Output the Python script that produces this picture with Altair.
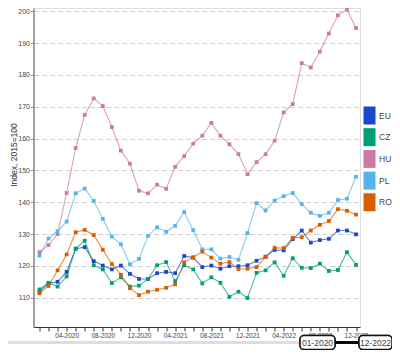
import altair as alt
import pandas as pd
import json

months = ["01-2020","02-2020","03-2020","04-2020","05-2020","06-2020","07-2020","08-2020","09-2020","10-2020","11-2020","12-2020",
          "01-2021","02-2021","03-2021","04-2021","05-2021","06-2021","07-2021","08-2021","09-2021","10-2021","11-2021","12-2021",
          "01-2022","02-2022","03-2022","04-2022","05-2022","06-2022","07-2022","08-2022","09-2022","10-2022","11-2022","12-2022"]

countries = ["EU", "CZ", "HU", "PL", "RO"]
colors = ["#1a47c7", "#009E73", "#CC79A7", "#56B4E9", "#D55E00"]

eu = [111.9, 114.5, 115.0, 118.1, 125.4, 125.9, 121.5, 120.1, 118.9, 120.1, 117.5, 115.9,
      115.9, 117.7, 118.1, 117.7, 123.1, 122.6, 119.6, 120.1, 119.1, 119.9, 119.9, 120.2,
      121.6, 122.9, 125.0, 124.9, 128.4, 131.1, 127.3, 128.1, 128.5, 131.1, 131.1, 129.9]
cz = [112.6, 114.7, 113.5, 116.7, 125.4, 127.9, 120.2, 118.9, 114.6, 116.4, 113.5, 113.8,
      115.9, 120.2, 121.2, 115.2, 120.2, 118.9, 114.5, 116.4, 114.7, 110.3, 111.9, 109.9,
      117.8, 118.6, 121.1, 116.9, 122.4, 119.4, 119.3, 120.7, 118.4, 118.7, 124.3, 120.3]
hu = [124.3, 126.5, 130.0, 142.9, 157.0, 167.4, 172.6, 170.2, 163.6, 156.2, 152.1, 143.6,
      142.8, 145.5, 144.2, 151.1, 154.5, 158.4, 160.9, 164.9, 160.9, 158.2, 155.1, 148.8,
      152.6, 155.1, 159.3, 168.2, 170.8, 183.7, 182.3, 187.3, 193.0, 198.7, 200.5, 194.7]
pl = [123.2, 128.6, 130.9, 133.9, 142.8, 144.3, 140.4, 134.8, 129.2, 126.8, 120.5, 122.2,
      129.4, 132.1, 130.7, 132.6, 136.9, 131.2, 125.2, 125.2, 122.3, 122.8, 121.9, 130.3,
      139.7, 137.4, 140.5, 141.9, 142.9, 139.4, 136.7, 135.7, 136.7, 140.7, 141.1, 148.0]
ro = [111.4, 113.7, 118.6, 123.6, 130.6, 131.3, 129.7, 125.1, 120.6, 117.2, 113.0, 110.8,
      111.9, 112.5, 113.1, 114.2, 121.1, 122.7, 124.5, 122.6, 120.7, 121.2, 119.0, 119.1,
      119.6, 122.8, 125.7, 125.6, 128.8, 129.0, 131.1, 132.9, 134.1, 137.8, 137.3, 136.1]

series = {"EU": eu, "CZ": cz, "HU": hu, "PL": pl, "RO": ro}
rows = []
for c in countries:
    for i, v in enumerate(series[c]):
        rows.append({"idx": i, "month": months[i], "country": c, "value": v})
df = pd.DataFrame(rows)
leg_df = pd.DataFrame({"country": countries})

FONT = "Liberation Sans"
label_expr = "datum.value % 4 == 3 ? " + json.dumps(months) + "[datum.value] : ''"

color_scale = alt.Scale(domain=countries, range=colors)

x_enc = alt.X("idx:Q",
              scale=alt.Scale(domain=[-0.663, 35.44], nice=False, zero=False),
              axis=alt.Axis(values=list(range(36)), labelExpr=label_expr, title=None, grid=False,
                            tickSize=4, tickColor="#333", domainColor="#333", domainWidth=1,
                            labelFontSize=6.5, labelColor="#444", labelPadding=1,
                            labelOverlap=False, labelFlush=False, labelFont=FONT))
y_enc = alt.Y("value:Q",
              scale=alt.Scale(domain=[100.8, 201], nice=False, zero=False),
              axis=alt.Axis(values=list(range(110, 201, 10)), grid=True, gridDash=[5, 3],
                            gridColor="#cfcfcf", domainColor="#888", domainWidth=1.5,
                            tickSize=3, tickColor="#888", labelFontSize=7, labelColor="#444",
                            labelPadding=1, labelFont=FONT,
                            title="Index, 2015=100", titleFontSize=8.5, titleFontWeight="normal",
                            titleColor="#333", titleFont=FONT, titleX=-20.5, titleY=146.5,
                            titleBaseline="middle", titleAlign="center"))

lines = alt.Chart(df).mark_line(strokeWidth=1.1, opacity=0.7).encode(
    x=x_enc, y=y_enc,
    color=alt.Color("country:N", scale=color_scale, legend=None),
    detail="country:N")
points = alt.Chart(df).mark_point(filled=True, size=14, opacity=1, shape="square").encode(
    x=x_enc, y=y_enc,
    color=alt.Color("country:N", scale=color_scale, legend=None))

plot = alt.layer(lines, points)

# legend (colour keys on the right edge)
leg_y = alt.Y("country:N", sort=countries, axis=None,
              scale=alt.Scale(domain=countries, range=[98, 203.8], paddingInner=0.124, paddingOuter=0))
leg_rect = alt.Chart(leg_df).mark_rect(stroke="#ffffff", strokeWidth=1).encode(
    x=alt.value(329.5), x2=alt.value(342.5), y=leg_y,
    color=alt.Color("country:N", scale=color_scale, legend=None))
leg_text = alt.Chart(leg_df).mark_text(align="left", baseline="middle", fontSize=8.5,
                                       color="#444", font=FONT).encode(
    x=alt.value(345.5), y=leg_y, text="country:N")
leg = alt.layer(leg_rect, leg_text)

# range-slider style decoration below the axis
ends = pd.DataFrame({"label": [months[0], months[-1]]})
bar = alt.Chart(ends).mark_rule(color="#dcdde6", strokeWidth=3).encode(
    x=alt.value(-25.5), x2=alt.value(270), y=alt.value(334.5))
join = alt.Chart(ends).mark_rule(color="#000", strokeWidth=2.5).encode(
    x=alt.value(301.5), x2=alt.value(325.5), y=alt.value(334.5))
box1 = alt.Chart(ends).mark_rect(fill="white", stroke="#111", strokeWidth=1.5, cornerRadius=4).encode(
    x=alt.value(266.5), x2=alt.value(301.5), y=alt.value(327.5), y2=alt.value(341.5))
box2 = alt.Chart(ends).mark_rect(fill="white", stroke="#111", strokeWidth=1.5, cornerRadius=4).encode(
    x=alt.value(325.5), x2=alt.value(358.5), y=alt.value(327.5), y2=alt.value(341.5))
t1 = alt.Chart(ends).transform_filter("datum.label == '%s'" % months[0]).mark_text(
    fontSize=8.5, color="#444", font=FONT).encode(text="label:N", x=alt.value(284), y=alt.value(334.5))
t2 = alt.Chart(ends).transform_filter("datum.label == '%s'" % months[-1]).mark_text(
    fontSize=8.5, color="#444", font=FONT).encode(text="label:N", x=alt.value(342), y=alt.value(334.5))
slider = alt.layer(bar, join, box1, box2, t1, t2)

chart = alt.layer(plot, leg, slider).resolve_scale(y="independent").properties(
    width=326.5, height=319,
    autosize=alt.AutoSizeParams(type="none"),
    padding={"left": 25.5, "top": 0, "right": 32, "bottom": 23},
).configure_view(stroke=None).configure(font=FONT)

chart.save("out.html", embed_options={"renderer": "svg", "actions": False})
